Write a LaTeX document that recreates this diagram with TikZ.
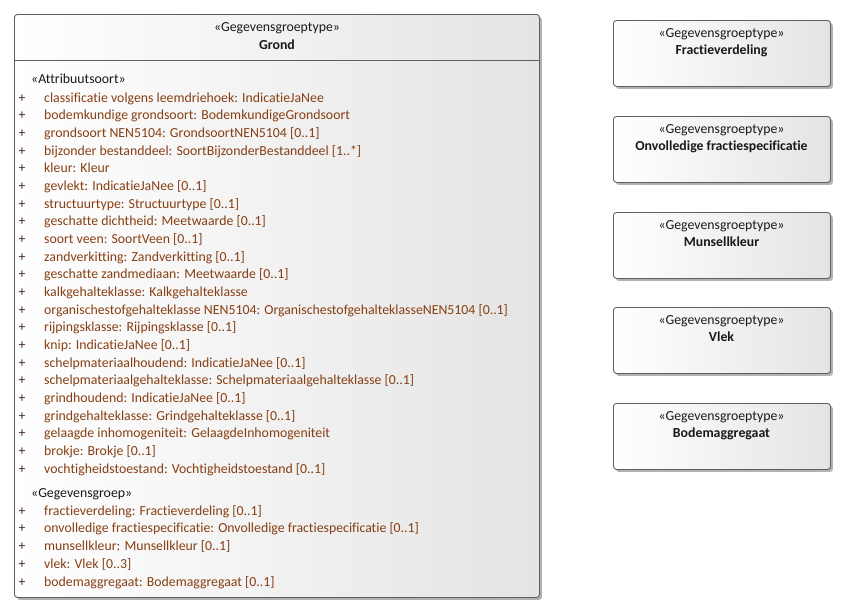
\documentclass[tikz,border=0pt]{standalone}
\usepackage{fontspec}
\setmainfont[Ligatures=NoCommon]{Carlito}
\usetikzlibrary{shadows}
\definecolor{boxgray}{RGB}{228,228,228}
\definecolor{edgegray}{RGB}{95,95,95}
\definecolor{attrcol}{RGB}{135,62,18}
\definecolor{pluscol}{RGB}{70,40,25}
\definecolor{headcol}{RGB}{25,25,25}
\begin{document}
\begin{tikzpicture}[x=1pt,y=-1pt,
  umlbox/.style={draw=edgegray, line width=0.9pt, rounded corners=3pt,
    left color=white, right color=boxgray, anchor=north west, inner sep=0pt,
    drop shadow={shadow xshift=2.5pt, shadow yshift=-2.5pt, opacity=0.3, fill=black}},
  stereo/.style={anchor=base, inner sep=0pt, text=headcol, font=\fontsize{13.8}{16}\selectfont},
  bname/.style={anchor=base, inner sep=0pt, text=headcol, font=\fontsize{13.8}{16}\selectfont\bfseries},
  sect/.style={anchor=base west, inner sep=0pt, text=headcol, font=\fontsize{13.8}{16}\selectfont},
  attr/.style={anchor=base west, inner sep=0pt, text=attrcol, font=\fontsize{13.8}{16}\selectfont},
  plus/.style={anchor=base, inner sep=0pt, text=pluscol, font=\fontsize{13.8}{16}\selectfont}
]
\useasboundingbox (0,0) rectangle (848,614);

% Main class Grond
\node[umlbox, minimum width=525, minimum height=583] (grond) at (14,14) {};
\coordinate (hl) at (14,60);
\coordinate (hr) at (539,60);
\draw[edgegray, line width=0.9pt] (hl) -- (hr);
\node[stereo] (gst) at (277,31) {«Gegevensgroeptype»};
\node[bname] (gname) at (277,49) {Grond};

\node[sect] (sattr) at (31,83) {«Attribuutsoort»};
\foreach \i/\t in {
 0/{classificatie volgens leemdriehoek: IndicatieJaNee},
 1/{bodemkundige grondsoort: BodemkundigeGrondsoort},
 2/{grondsoort NEN5104: GrondsoortNEN5104 [0..1]},
 3/{bijzonder bestanddeel: SoortBijzonderBestanddeel [1..*]},
 4/{kleur: Kleur},
 5/{gevlekt: IndicatieJaNee [0..1]},
 6/{structuurtype: Structuurtype [0..1]},
 7/{geschatte dichtheid: Meetwaarde [0..1]},
 8/{soort veen: SoortVeen [0..1]},
 9/{zandverkitting: Zandverkitting [0..1]},
 10/{geschatte zandmediaan: Meetwaarde [0..1]},
 11/{kalkgehalteklasse: Kalkgehalteklasse},
 12/{organischestofgehalteklasse NEN5104: OrganischestofgehalteklasseNEN5104 [0..1]},
 13/{rijpingsklasse: Rijpingsklasse [0..1]},
 14/{knip: IndicatieJaNee [0..1]},
 15/{schelpmateriaalhoudend: IndicatieJaNee [0..1]},
 16/{schelpmateriaalgehalteklasse: Schelpmateriaalgehalteklasse [0..1]},
 17/{grindhoudend: IndicatieJaNee [0..1]},
 18/{grindgehalteklasse: Grindgehalteklasse [0..1]},
 19/{gelaagde inhomogeniteit: GelaagdeInhomogeniteit},
 20/{brokje: Brokje [0..1]},
 21/{vochtigheidstoestand: Vochtigheidstoestand [0..1]}} {
  \node[plus] (p\i) at (22,102+17.67*\i) {+};
  \node[attr] (a\i) at (44,102+17.67*\i) {\t};
}

\node[sect] (sgrp) at (31,497) {«Gegevensgroep»};
\foreach \i/\t in {
 0/{fractieverdeling: Fractieverdeling [0..1]},
 1/{onvolledige fractiespecificatie: Onvolledige fractiespecificatie [0..1]},
 2/{munsellkleur: Munsellkleur [0..1]},
 3/{vlek: Vlek [0..3]},
 4/{bodemaggregaat: Bodemaggregaat [0..1]}} {
  \node[plus] (q\i) at (22,515+17.75*\i) {+};
  \node[attr] (g\i) at (44,515+17.75*\i) {\t};
}

% Right-hand types
\foreach \n/\y/\t in {frac/20/Fractieverdeling, onv/116/Onvolledige fractiespecificatie,
  mun/212/Munsellkleur, vlek/307/Vlek, bod/403/Bodemaggregaat} {
  \node[umlbox, minimum width=217, minimum height=66] (\n) at (613,\y) {};
  \node[stereo] (\n-st) at (721.5,\y+17) {«Gegevensgroeptype»};
  \node[bname] (\n-nm) at (721.5,\y+34) {\t};
}
\end{tikzpicture}
\end{document}
